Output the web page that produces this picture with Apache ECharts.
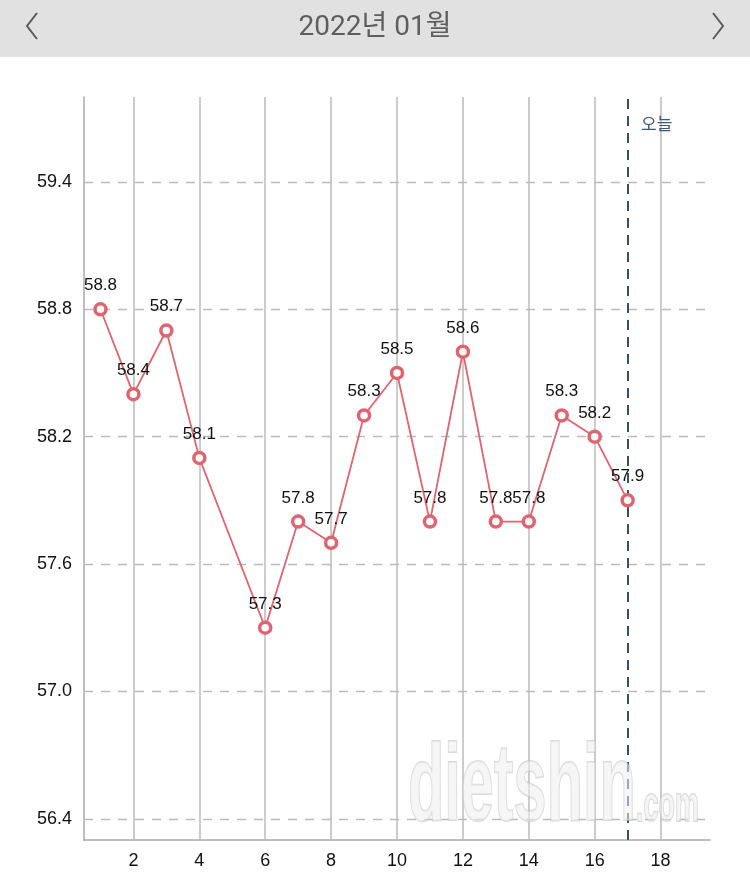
<!DOCTYPE html>
<html><head><meta charset="utf-8">
<script src="https://cdn.jsdelivr.net/npm/echarts@6/dist/echarts.min.js"></script>
<style>html,body{margin:0;padding:0;background:#fff}#c{width:750px;height:878px}</style>
</head><body><div id="c"></div>
<script>
const title = '2022년 01월';
const days = [1,2,3,4,6,7,8,9,10,11,12,13,14,15,16,17];
const weights = [58.8,58.4,58.7,58.1,57.3,57.8,57.7,58.3,58.5,57.8,58.6,57.8,57.8,58.3,58.2,57.9];
const xTicks = [2,4,6,8,10,12,14,16,18];
const yTicks = [56.4,57.0,57.6,58.2,58.8,59.4];
const today = 17;
const todayLabel = '오늘';
const watermark = 'dietshin';
const watermark2 = '.com';

const chart = echarts.init(document.getElementById('c'));
const red = '#e0646f';
const fontLatin = '"Liberation Sans", Arial, sans-serif';
const fontKr = '"Noto Sans CJK KR", sans-serif';
const wmFont = 'bold 110px "Liberation Sans", sans-serif';
const wmFont2 = 'bold 50px "Liberation Sans", sans-serif';

chart.setOption({
  animation: false,
  backgroundColor: '#fff',
  title: {
    text: title, left: 'center', top: 9,
    textStyle: {fontFamily: 'Roboto, "Noto Sans CJK KR", sans-serif', fontSize: 28, fontWeight: 'normal', color: '#5e5e5e'}
  },
  graphic: [
    {type: 'rect', z: -10, shape: {x: 0, y: 0, width: 750, height: 57}, style: {fill: '#e1e1e1'}},
    {type: 'polyline', shape: {points: [[37, 13], [27, 26], [37, 39]]}, style: {stroke: '#5a5a5a', lineWidth: 2, fill: null}},
    {type: 'polyline', shape: {points: [[713, 13], [723, 26], [713, 39]]}, style: {stroke: '#5a5a5a', lineWidth: 2, fill: null}},
    {type: 'text', z: 100, x: 408, y: 735, scaleX: 0.54, silent: true,
     style: {text: watermark, font: wmFont,
             fill: 'rgba(238,238,238,0.55)', stroke: 'rgba(190,190,190,0.55)', lineWidth: 2}},
    {type: 'text', z: 100, x: 636, y: 782, scaleX: 0.54, silent: true,
     style: {text: watermark2, font: wmFont2,
             fill: 'rgba(238,238,238,0.55)', stroke: 'rgba(190,190,190,0.55)', lineWidth: 2}}
  ],
  grid: {left: 84, right: 40, top: 97, bottom: 38, containLabel: false},
  xAxis: {
    type: 'value', min: 0.5, max: 19.5,
    axisLine: {show: true, lineStyle: {color: '#aaaaaa', width: 1.5}},
    axisTick: {show: false},
    splitLine: {show: false},
    axisLabel: {customValues: xTicks, fontFamily: fontLatin, fontSize: 18, color: '#111', margin: 12}
  },
  yAxis: {
    type: 'value', min: 56.3, max: 59.8,
    axisLine: {show: true, lineStyle: {color: '#aaaaaa', width: 1.5}},
    axisTick: {show: false},
    splitLine: {show: false},
    axisLabel: {customValues: yTicks, formatter: v => Number(v).toFixed(1),
                fontFamily: fontLatin, fontSize: 18, color: '#111', margin: 12}
  },
  series: [
    {
      type: 'line', data: [], silent: true,
      markLine: {
        silent: true, symbol: 'none', animation: false,
        label: {show: false},
        data: [
          ...xTicks.map(x => ({xAxis: x, lineStyle: {color: '#bbbbbb', width: 1.5, type: 'solid'}})),
          ...yTicks.map(y => ({yAxis: y, lineStyle: {color: '#bbbbbb', width: 1.3, type: [9, 8]}})),
          {xAxis: today, lineStyle: {color: '#34506c', width: 2, type: [10, 7]},
           label: {show: true, position: 'end', formatter: todayLabel, distance: 0, offset: [29, 35],
                   fontFamily: fontKr, fontSize: 17, color: '#3a5878'}}
        ]
      }
    },
    {
      type: 'line', z: 5,
      data: days.map((d, i) => [d, weights[i]]),
      symbol: 'circle', symbolSize: 11,
      lineStyle: {color: red, width: 1.8},
      itemStyle: {color: '#ffffff', borderColor: red, borderWidth: 3.5},
      label: {show: true, position: 'top', distance: 8, fontFamily: fontLatin, fontSize: 17, color: '#111',
              formatter: p => p.value[1].toFixed(1)}
    }
  ]
});
</script>
</body></html>
